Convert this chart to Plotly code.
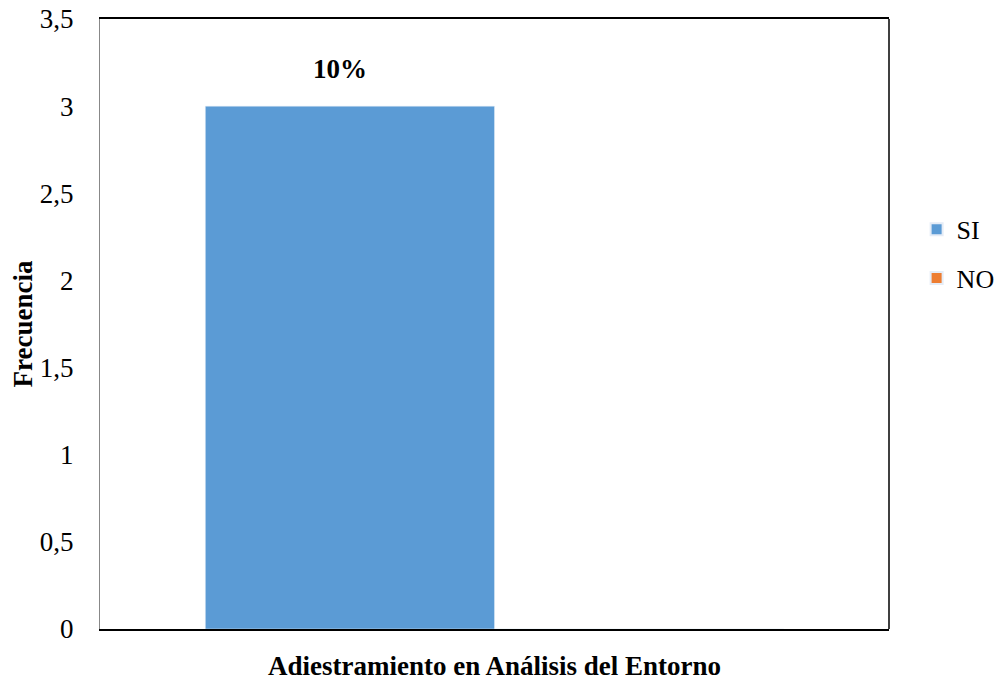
import plotly.graph_objects as go

category = ["Adiestramiento en Análisis del Entorno"]
series_names = ["SI", "NO"]
si_values = [3]
no_values = [0]
si_label = "10%"
colors = {"SI": "#5B9BD5", "NO": "#ED7D31"}
y_ticks = [0, 0.5, 1, 1.5, 2, 2.5, 3, 3.5]

font = "Liberation Serif, Times New Roman, serif"
FS = 27

fig = go.Figure()
fig.add_trace(go.Bar(name="SI", x=category, y=si_values, marker_color=colors["SI"], legendgroup="a"))
fig.add_trace(go.Bar(name="NO", x=category, y=no_values, marker_color=colors["NO"], legendgroup="b"))

fig.add_annotation(x=category[0], y=si_values[0], text="<b>" + si_label + "</b>",
                   showarrow=False, xshift=-155, yshift=20, yanchor="bottom",
                   font=dict(family=font, size=FS, color="black"))

fig.add_shape(type="line", xref="paper", yref="paper", x0=1, x1=1, y0=0, y1=1,
              line=dict(color="black", width=1.5))

fig.update_layout(
    width=1003, height=681,
    margin=dict(l=92, r=122, t=11, b=60, autoexpand=False),
    paper_bgcolor="white", plot_bgcolor="white",
    separators=",.",
    barmode="group", bargap=0.267, bargroupgap=0,
    font=dict(family=font, size=FS, color="black"),
    showlegend=True,
    legend=dict(x=1.035, y=0.615, xanchor="left", yanchor="middle",
                font=dict(family=font, size=26, color="black"),
                tracegroupgap=12, itemsizing="constant", borderwidth=0),
    xaxis=dict(showticklabels=False, ticks="", showline=True, linecolor="black",
               linewidth=1.5, mirror=True, showgrid=False, automargin=False,
               title=dict(text="<b>Adiestramiento en Análisis del Entorno</b>",
                          font=dict(family=font, size=FS), standoff=26)),
    yaxis=dict(range=[0, 3.5], tickvals=y_ticks, showgrid=False, zeroline=False,
               showline=True, linecolor="#888888", linewidth=1, ticks="",
               ticklabelstandoff=20, automargin=False, ticklabeloverflow="allow",
               title=dict(text="<b>Frecuencia</b>", font=dict(family=font, size=FS), standoff=14)),
)

fig.write_html("out.html")
